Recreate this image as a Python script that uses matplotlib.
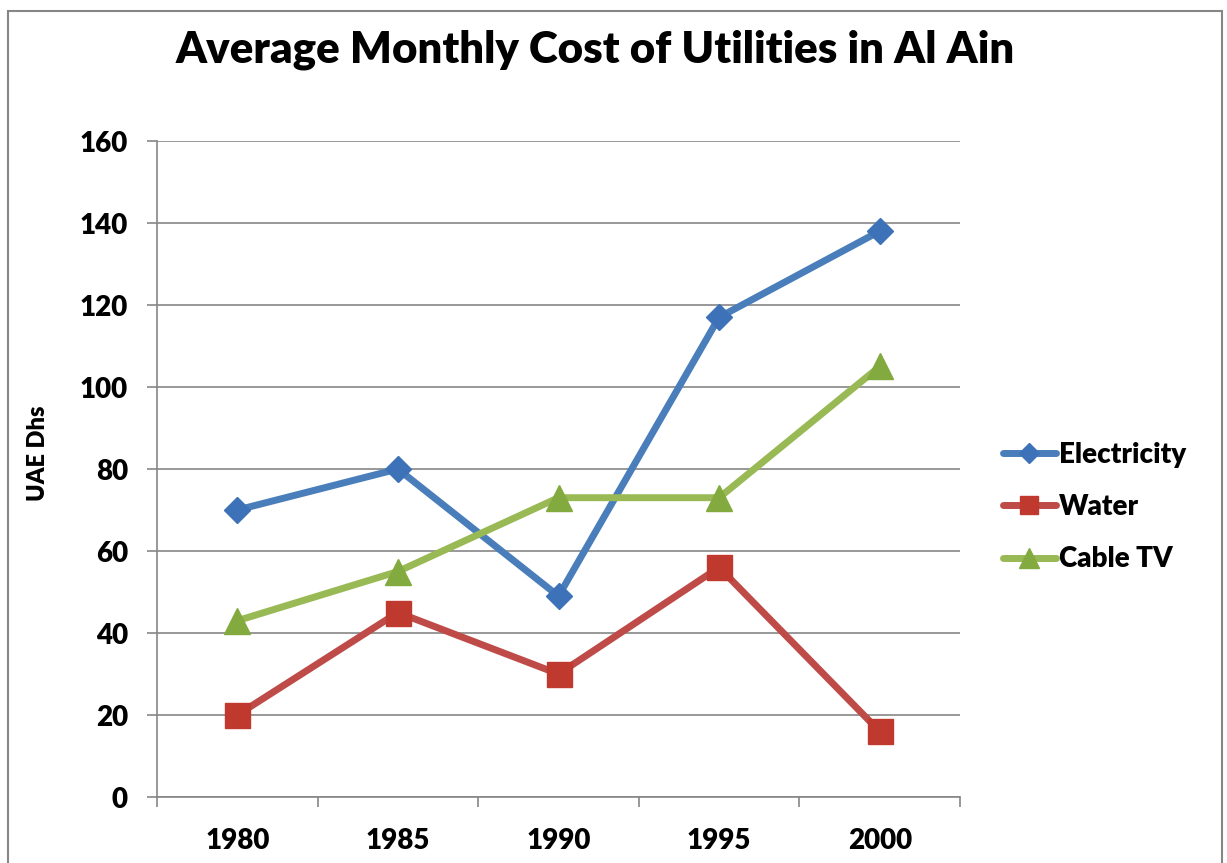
import matplotlib
matplotlib.use("Agg")
import matplotlib.pyplot as plt
from matplotlib.patches import Rectangle

years = ["1980", "1985", "1990", "1995", "2000"]
electricity = [70, 80, 49, 117, 138]
water = [20, 45, 30, 56, 16]
cable_tv = [43, 55, 73, 73, 105]

plt.rcParams['font.family'] = ['Lato', 'DejaVu Sans']
WT = 'heavy'

fig = plt.figure(figsize=(12.27, 8.63), dpi=100)
W, H = 1227, 863
ax = fig.add_axes([157 / W, 1 - 797 / H, (960 - 157) / W, (797 - 141) / H])

x = list(range(len(years)))
series = [
    ("Electricity", electricity, "#4A7EBB", "#3D72B8", "D", 13),
    ("Water", water, "#BE4B48", "#C0392F", "s", 18),
    ("Cable TV", cable_tv, "#98B954", "#82AA3E", "^", 19),
]
for name, vals, col, mcol, mk, ms in series:
    ax.plot(x, vals, color=col, lw=5, marker=mk, ms=ms, mfc=mcol, mec=mcol,
            solid_capstyle='round', solid_joinstyle='round', label=name)

ax.set_xlim(-0.5, len(years) - 0.5)
ax.set_ylim(0, 160)
ax.set_yticks(range(0, 161, 20))
ax.set_xticks(x)
ax.set_xticklabels(years)
ax.set_xticks([i - 0.5 for i in range(len(years) + 1)], minor=True)
ax.tick_params(axis='x', which='major', length=0, pad=22, labelsize=20)
ax.tick_params(axis='x', which='minor', length=7, width=1.2, color='#868686', direction='out')
ax.tick_params(axis='y', length=7, width=1.2, color='#868686', direction='out', pad=14, labelsize=20)
for lbl in ax.get_xticklabels() + ax.get_yticklabels():
    lbl.set_fontweight(WT)

ax.grid(axis='y', color='#868686', lw=1.2)
ax.set_axisbelow(True)
for s in ['top', 'right']:
    ax.spines[s].set_visible(False)
for s in ['left', 'bottom']:
    ax.spines[s].set_color('#868686')
    ax.spines[s].set_linewidth(1.2)

fig.text(38 / W, 1 - 453 / H, "UAE Dhs", rotation=90, ha='center', va='center',
         fontsize=17, fontweight=WT)
fig.text(595 / W, 1 - 50 / H, "Average Monthly Cost of Utilities in Al Ain",
         ha='center', va='center', fontsize=31.5, fontweight=WT)

leg = ax.legend(loc='center left', bbox_to_anchor=(978 / W, 1 - 507 / H),
                bbox_transform=fig.transFigure, frameon=False, fontsize=20,
                handlelength=1.9, handletextpad=0.1, labelspacing=0.95,
                markerscale=0.75)
for t in leg.get_texts():
    t.set_fontweight(WT)

fig.patches.append(Rectangle((8 / W, -0.01), (1222 - 8) / W, 1 - 11 / H + 0.01,
                             transform=fig.transFigure, fill=False,
                             edgecolor='#868686', lw=1.5))

fig.savefig("out.png", dpi=100)
